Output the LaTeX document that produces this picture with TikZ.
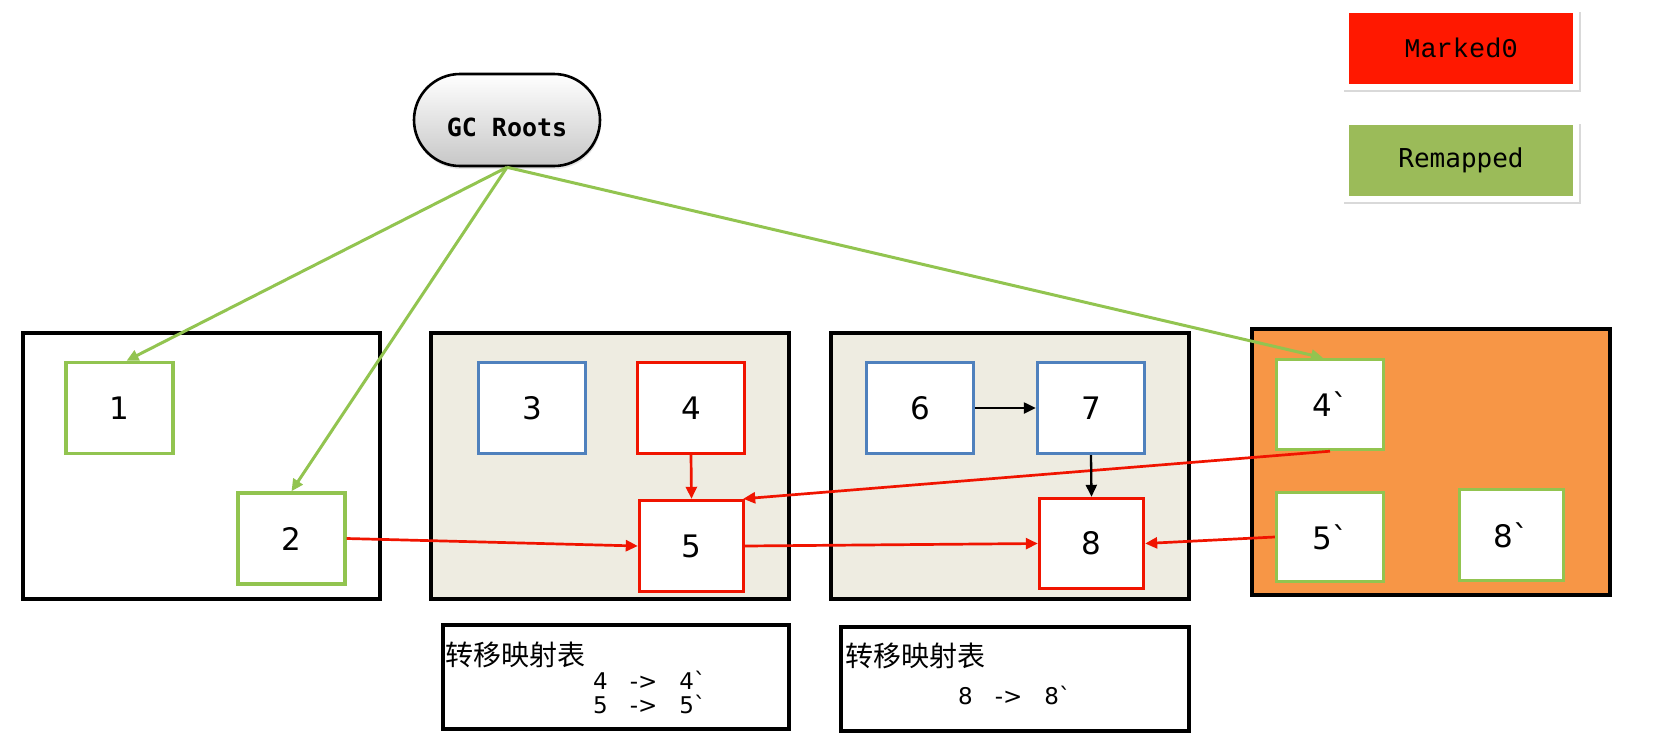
\documentclass[tikz,border=0pt]{standalone}
\usepackage{fontspec}
\usetikzlibrary{arrows.meta,shapes.misc,shadows}
\newfontfamily\cjkf{Noto Sans CJK SC}
\newfontfamily\dvs{DejaVu Sans}[Ligatures=TeXOff]
\newfontfamily\dvm{DejaVu Sans Mono}[Ligatures=TeXOff]
\newfontfamily\lmono{Liberation Mono}[Ligatures=TeXOff]
\definecolor{ggreen}{RGB}{146,196,80}
\definecolor{rred}{RGB}{240,20,0}
\definecolor{bblue}{RGB}{79,129,189}
\definecolor{beige}{RGB}{238,236,225}
\definecolor{oorange}{RGB}{247,150,70}
\definecolor{mred}{RGB}{255,24,0}
\definecolor{olivegr}{RGB}{155,187,89}
\tikzset{
  region/.style={draw=black, line width=4pt, inner sep=0pt},
  obj/.style={draw, line width=3.4pt, fill=white, minimum width=107pt, minimum height=91pt, inner sep=0pt, font=\dvs\fontsize{31}{36}\selectfont},
  gobj/.style={obj, draw=ggreen},
  robj/.style={obj, draw=rred},
  bobj/.style={obj, draw=bblue},
  tip/.style={-{Triangle[length=12pt,width=11pt]}},
  garrow/.style={draw=ggreen, line width=3pt, tip},
  rarrow/.style={draw=rred, line width=2.7pt, tip},
  karrow/.style={draw=black, line width=2.3pt, tip},
  legend/.style={draw=white, line width=6pt, minimum width=230pt, minimum height=77pt, inner sep=0pt,
    drop shadow={opacity=0.3, shadow xshift=1pt, shadow yshift=-4pt, shadow scale=1.03}},
  tabtitle/.style={anchor=west, inner sep=0pt, font=\cjkf\fontsize{28}{32}\selectfont},
  tabline/.style={anchor=west, inner sep=0pt, font=\dvs\fontsize{23}{28}\selectfont},
}
\begin{document}
\begin{tikzpicture}[x=1pt,y=-1pt]
\useasboundingbox (0,0) rectangle (1657,742);
% legend
\node[legend, fill=mred, font=\lmono\fontsize{27}{32}\selectfont] (mk) at (1461,48) {Marked0};
\node[legend, fill=olivegr, font=\dvm\fontsize{26}{32}\selectfont] (rm) at (1461,160) {Remapped};
% GC roots
\node[rounded rectangle, draw=black, line width=2.6pt, top color=white, bottom color=black!22,
  minimum width=186pt, minimum height=92pt, inner sep=0pt,
  font=\dvm\bfseries\fontsize{25}{30}\selectfont,
  drop shadow={opacity=0.2, shadow xshift=1pt, shadow yshift=-3pt}] (gc) at (507,120) {\smash{\raisebox{-16pt}{GC Roots}}};
% regions
\node[region, fill=white, minimum width=357.5pt, minimum height=266.5pt] (ra) at (201.5,466) {};
\node[region, fill=beige, minimum width=358.5pt, minimum height=266.5pt] (rb) at (610,466) {};
\node[region, fill=beige, minimum width=358.5pt, minimum height=266.5pt] (rc) at (1010,466) {};
\node[region, fill=oorange, minimum width=358.5pt, minimum height=266.5pt] (rd) at (1431,462) {};
% objects
\node[gobj] (n1) at (119.5,408) {1};
\node[gobj] (n2) at (291.5,538.5) {2};
\node[bobj] (n3) at (532,408) {3};
\node[robj] (n4) at (691,408) {4};
\node[robj, minimum width=104pt] (n5) at (691.5,546) {5};
\node[bobj] (n6) at (920,408) {6};
\node[bobj] (n7) at (1091,408) {7};
\node[robj, minimum width=104pt, minimum height=90pt] (n8) at (1091.5,543.5) {8};
\node[gobj, minimum height=90pt] (n4p) at (1330,404.5) {4`};
\node[gobj, minimum height=89pt] (n5p) at (1330,537) {5`};
\node[gobj, minimum width=104pt, minimum height=91pt] (n8p) at (1511.5,535) {8`};
% tables
\node[region, minimum width=346.5pt, minimum height=104.5pt] (t1) at (616,677) {};
\node[region, minimum width=348.5pt, minimum height=104.5pt] (t2) at (1015,679) {};
\node[tabtitle] (t1h) at (445,655) {转移映射表};
\node[tabline] (t1a) at (593,680) {4\hspace{22pt}->\hspace{22pt}4`};
\node[tabline] (t1b) at (593,704) {5\hspace{22pt}->\hspace{22pt}5`};
\node[tabtitle] (t2h) at (845,656) {转移映射表};
\node[tabline] (t2a) at (958,695) {8\hspace{22pt}->\hspace{22pt}8`};
% connectors
\draw[garrow] (gc.south) -- ([xshift=7pt]n1.north);
\draw[garrow] (gc.south) -- (n2.north);
\draw[garrow] (gc.south) -- ([xshift=-7pt]n4p.north);
\draw[rarrow] (n2.east) -- (n5.west);
\draw[rarrow] (n4.south) -- (n5.north);
\draw[rarrow] (n4p.south) -- ([xshift=-2pt]n5.north east);
\draw[rarrow] (n5.east) -- (n8.west);
\draw[rarrow] (n5p.west) -- (n8.east);
\draw[karrow] (n6.east) -- (n7.west);
\draw[karrow] (n7.south) -- (n8.north);
\end{tikzpicture}
\end{document}
